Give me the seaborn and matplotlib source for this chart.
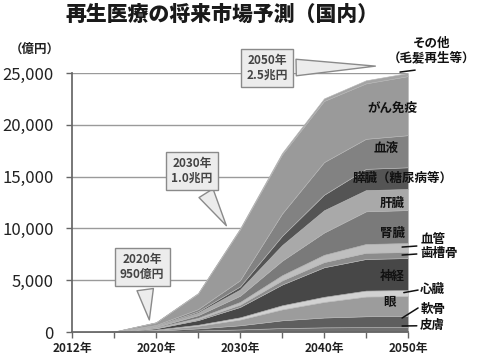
import numpy as np
import pandas as pd
import seaborn as sns
import matplotlib.pyplot as plt
from matplotlib.ticker import FuncFormatter

years = ['2012年', '2015年', '2020年', '2025年', '2030年', '2035年', '2040年', '2045年', '2050年']
shown_years = ['2012年', '2020年', '2030年', '2040年', '2050年']

# layers, bottom to top (億円)
hifu     = [0, 5, 60, 150, 250, 380, 450, 470, 480]
nankotsu = [0, 5, 70, 200, 400, 750, 950, 1050, 1060]
me       = [0, 5, 80, 250, 550, 1050, 1500, 1900, 1930]
shinzo   = [0, 2, 30, 100, 220, 400, 500, 580, 580]
shinkei  = [0, 5, 120, 450, 1000, 2000, 2850, 3050, 3090]
shisokotsu = [0, 2, 30, 100, 220, 400, 500, 600, 580]
kekkan   = [0, 2, 40, 120, 260, 500, 700, 850, 870]
jinzo    = [0, 3, 70, 250, 600, 1400, 2150, 3150, 3180]
kanzo    = [0, 3, 70, 250, 600, 1500, 2150, 2050, 2030]
suizo    = [0, 2, 40, 120, 300, 900, 1500, 2050, 2100]
ketsueki = [0, 3, 70, 220, 600, 2150, 3150, 2900, 3100]
gan      = [0, 8, 250, 1500, 4900, 5700, 5900, 5350, 5700]
sonota   = [0, 1, 20, 50, 100, 150, 250, 300, 300]

layer_names = ['皮膚', '軟骨', '眼', '心臓', '神経', '歯槽骨', '血管', '腎臓',
               '肝臓', '膵臓（糖尿病等）', '血液', 'がん免疫', 'その他']
layer_colors = ['#707070', '#5e5e5e', '#9c9c9c', '#d2d2d2', '#474747', '#8c8c8c',
                '#bfbfbf', '#7a7a7a', '#a9a9a9', '#545454', '#828282', '#9a9a9a', '#a4a4a4']

df = pd.DataFrame({n: v for n, v in zip(layer_names,
                   [hifu, nankotsu, me, shinzo, shinkei, shisokotsu, kekkan, jinzo,
                    kanzo, suizo, ketsueki, gan, sonota])}, index=years)

sns.set_theme(style='white')
plt.rcParams['font.family'] = ['Noto Sans CJK JP', 'DejaVu Sans']

fig = plt.figure(figsize=(4.99, 3.57), dpi=100)
ax = fig.add_axes([0.1443, 0.070, 0.6733, 0.7255])

x = np.arange(len(years))
for yv in range(5000, 25001, 5000):
    ax.axhline(yv, color='#9a9a9a', lw=1, zorder=0)

ax.stackplot(x, df.T.values, colors=layer_colors, edgecolor='#b5b5b5', linewidth=0.4, zorder=2)

ax.set_xlim(0, 8)
ax.set_ylim(0, 25000)
ax.set_xticks(x)
ax.set_xticklabels([y if y in shown_years else '' for y in years],
                   fontsize=8.5, fontweight='bold', color='#222')
ax.set_yticks(range(0, 25001, 5000))
ax.yaxis.set_major_formatter(FuncFormatter(lambda v, p: f'{int(v):,}'))
ax.tick_params(axis='y', labelsize=12, colors='#222', length=4, width=1, direction='out', left=True, pad=9)
ax.tick_params(axis='x', length=4, width=1, direction='out', bottom=True, pad=3, color='#666')
ax.tick_params(axis='y', color='#666')
for s in ['top', 'right']:
    ax.spines[s].set_visible(False)
ax.spines['left'].set_color('#666')
ax.spines['bottom'].set_color('#666')

fig.text(0.445, 1 - 15 / 357, '再生医療の将来市場予測（国内）', ha='center', va='center',
         fontsize=15, fontweight='heavy', color='#1a1a1a')
fig.text(0.07, 1 - 49 / 357, '（億円）', ha='center', va='center', fontsize=9, fontweight='bold', color='#222')

lab = dict(fontsize=9, fontweight='bold', color='#111', va='center')
ax.text(7.64, 21620, 'がん免疫', ha='center', **lab)
ax.text(7.48, 17760, '血液', ha='center', **lab)
ax.text(7.88, 14860, '膵臓（糖尿病等）', ha='center', **lab)
ax.text(7.62, 12450, '肝臓', ha='center', **lab)
ax.text(7.62, 9550, '腎臓', ha='center', **lab)
ax.text(7.62, 5400, '神経', ha='center', **lab)
ax.text(7.55, 2800, '眼', ha='center', **lab)
ax.text(8.57, 27150, 'その他\n（毛髪再生等）', ha='center', linespacing=1.15, clip_on=False, **lab)
for t, ty in [('血管', 8970), ('歯槽骨', 7620), ('心臓', 4150), ('軟骨', 2220), ('皮膚', 675)]:
    ax.text(8.29, ty, t, ha='left', clip_on=False, **lab)

leaders = [((7.81, 8.17), (25090, 25280)), ((7.86, 8.21), (8200, 8300)),
           ((7.86, 8.21), (7430, 7530)), ((7.9, 8.24), (3800, 4050)),
           ((7.86, 8.24), (1350, 2320)), ((7.86, 8.21), (580, 600))]
for lx, ly in leaders:
    ax.plot(lx, ly, color='#111', lw=1.1, clip_on=False, zorder=5)

box = dict(boxstyle='square,pad=0.45', fc='#ececec', ec='#8a8a8a', lw=1)
arr = dict(arrowstyle='wedge,tail_width=1.4,shrink_factor=0.5', fc='#ececec', ec='#8a8a8a', lw=1)
call = dict(ha='center', va='center', fontsize=8.5, fontweight='bold', color='#444',
            linespacing=1.2, annotation_clip=False, zorder=6)
ax.annotate('2020年\n950億円', xy=(1.85, 900), xytext=(1.67, 6270), bbox=box, arrowprops=arr, **call)
ax.annotate('2030年\n1.0兆円', xy=(3.71, 10040), xytext=(2.86, 15540), bbox=box, arrowprops=arr, **call)
ax.annotate('2050年\n2.5兆円', xy=(7.29, 25670), xytext=(4.64, 25480), bbox=box, arrowprops=arr, **call)

fig.savefig('out.png', dpi=100)
